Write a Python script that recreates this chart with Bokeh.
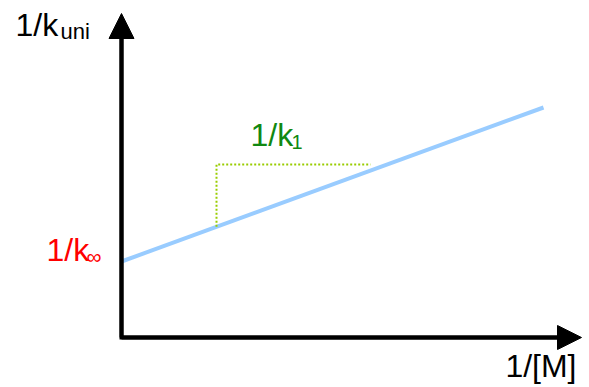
from bokeh.plotting import figure
from bokeh.models import Range1d, Arrow, NormalHead, Label
from bokeh.embed import file_html
from bokeh.resources import INLINE

# Lindemann plot: 1/k_uni versus 1/[M]
inv_M = [0.0, 4.22]
inv_k_uni = [0.76, 2.30]

# slope triangle (dotted)
tri_x = [0.95, 0.95, 2.49]
tri_y = [1.107, 1.73, 1.73]

# axes extents
x_axis_end = 4.60
y_axis_end = 3.24

FONT = "Liberation Sans"

p = figure(width=589, height=387, output_backend="svg", toolbar_location=None,
           x_range=Range1d(-1.21, 4.68), y_range=Range1d(-0.50, 3.37),
           min_border=0, outline_line_color=None)
p.axis.visible = False
p.grid.visible = False
p.background_fill_color = "white"

# data line
p.line(inv_M, inv_k_uni, line_color="#99ccff", line_width=4)

# slope triangle
p.line(tri_x, tri_y, line_color="#99cc00", line_width=2, line_dash="2 2")

# axes
p.line([0, 0, x_axis_end - 0.1], [y_axis_end - 0.1, 0, 0], line_color="black",
       line_width=4, line_join="miter")
p.add_layout(Arrow(end=NormalHead(size=25, fill_color="black", line_color="black", line_width=1),
                   x_start=0, y_start=0, x_end=0, y_end=y_axis_end,
                   line_color="black", line_width=4))
p.add_layout(Arrow(end=NormalHead(size=24, fill_color="black", line_color="black", line_width=1),
                   x_start=0, y_start=0, x_end=x_axis_end, y_end=0,
                   line_color="black", line_width=4))

def label(x, y, txt, size, color, align="left"):
    p.add_layout(Label(x=x, y=y, text=txt, text_font=FONT, text_font_size=size,
                       text_color=color, text_align=align, text_baseline="alphabetic"))

# y-axis title
label(-1.06, 3.13, "1/k", "32px", "black")
label(-0.61, 3.065, "uni", "22px", "black")
# intercept
label(-0.75, 0.88, "1/k", "32px", "#ff0000")
label(-0.35, 0.81, "\u221e", "21px", "#ff0000")
# slope
label(1.29, 2.03, "1/k", "32px", "#118811")
label(1.70, 1.952, "1", "20px", "#118811")
# x-axis title
label(4.55, -0.28, "1/[M]", "32px", "black", align="right")

open("out.html", "w").write(file_html(p, INLINE))
